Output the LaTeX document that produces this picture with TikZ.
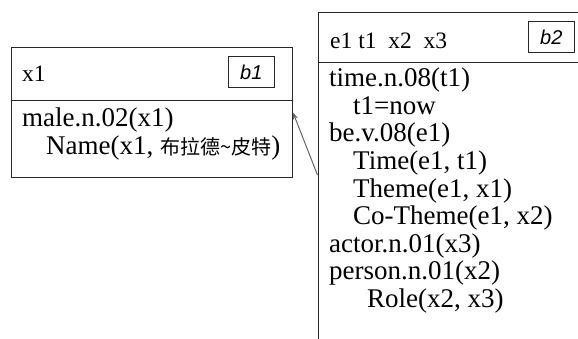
\documentclass[tikz,border=0pt]{standalone}
\usepackage{fontspec}
\setmainfont{Liberation Serif}
\newfontfamily\cjk{Noto Sans CJK SC}
\newfontfamily\lsans{Liberation Sans}
\usetikzlibrary{arrows.meta}
\begin{document}
\begin{tikzpicture}[x=1pt,y=-1pt,
  boxline/.style={draw=black!85, line width=1pt},
  body/.style={inner sep=0pt, anchor=base west, font=\fontsize{27}{27}\selectfont},
  head/.style={inner sep=0pt, anchor=base west, font=\fontsize{23.5}{23.5}\selectfont},
  tag/.style={draw=black!85, line width=1.1pt, inner sep=0pt, minimum width=46pt, minimum height=31pt, font=\lsans\itshape\fontsize{20}{20}\selectfont},
  link/.style={draw=black!60, line width=1pt, -{Stealth[length=7pt,width=5pt]}}]
\useasboundingbox (0,0) rectangle (578,338);
% left box b1
\node[boxline, anchor=north west, minimum width=281pt, minimum height=130pt, inner sep=0pt] (lbox) at (11,47) {};
\coordinate (ldivL) at (11,100);
\coordinate (ldivR) at (292,100);
\draw[boxline] (ldivL) -- (ldivR);
\node[tag] (b1) at (251.3,72.2) {b1};
\node[head] (lh) at (22,81.5) {x1};
\node[body] (l1) at (22,126) {male.n.02(x1)};
\node[body] (l2) at (46,154.5) {Name(x1, {\cjk\fontsize{20}{20}\selectfont 布拉德\textasciitilde 皮特})};
% right box b2
\coordinate (rBL) at (318,345);
\coordinate (rTL) at (318,12);
\coordinate (rTR) at (590,12);
\coordinate (rdivL) at (318,62);
\coordinate (rdivR) at (590,62);
\draw[boxline] (rBL) -- (rTL) -- (rTR);
\draw[boxline] (rdivL) -- (rdivR);
\node[tag] (b2) at (551.3,37.2) {b2};
\node[head] (rh) at (330,48.5) {e1 t1~ x2~ x3};
\node[body] (r1) at (329,86.7) {time.n.08(t1)};
\node[body] (r2) at (353,114.3) {t1=now};
\node[body] (r3) at (329,141.9) {be.v.08(e1)};
\node[body] (r4) at (353,169.5) {Time(e1, t1)};
\node[body] (r5) at (353,197.1) {Theme(e1, x1)};
\node[body] (r6) at (353,224.7) {Co-Theme(e1, x2)};
\node[body] (r7) at (329,252.3) {actor.n.01(x3)};
\node[body] (r8) at (329,279.9) {person.n.01(x2)};
\node[body] (r9) at (367,307.5) {Role(x2, x3)};
% arrow
\coordinate (arrS) at (317.5,175);
\draw[link] (arrS) -- (lbox.east);
\end{tikzpicture}
\end{document}
